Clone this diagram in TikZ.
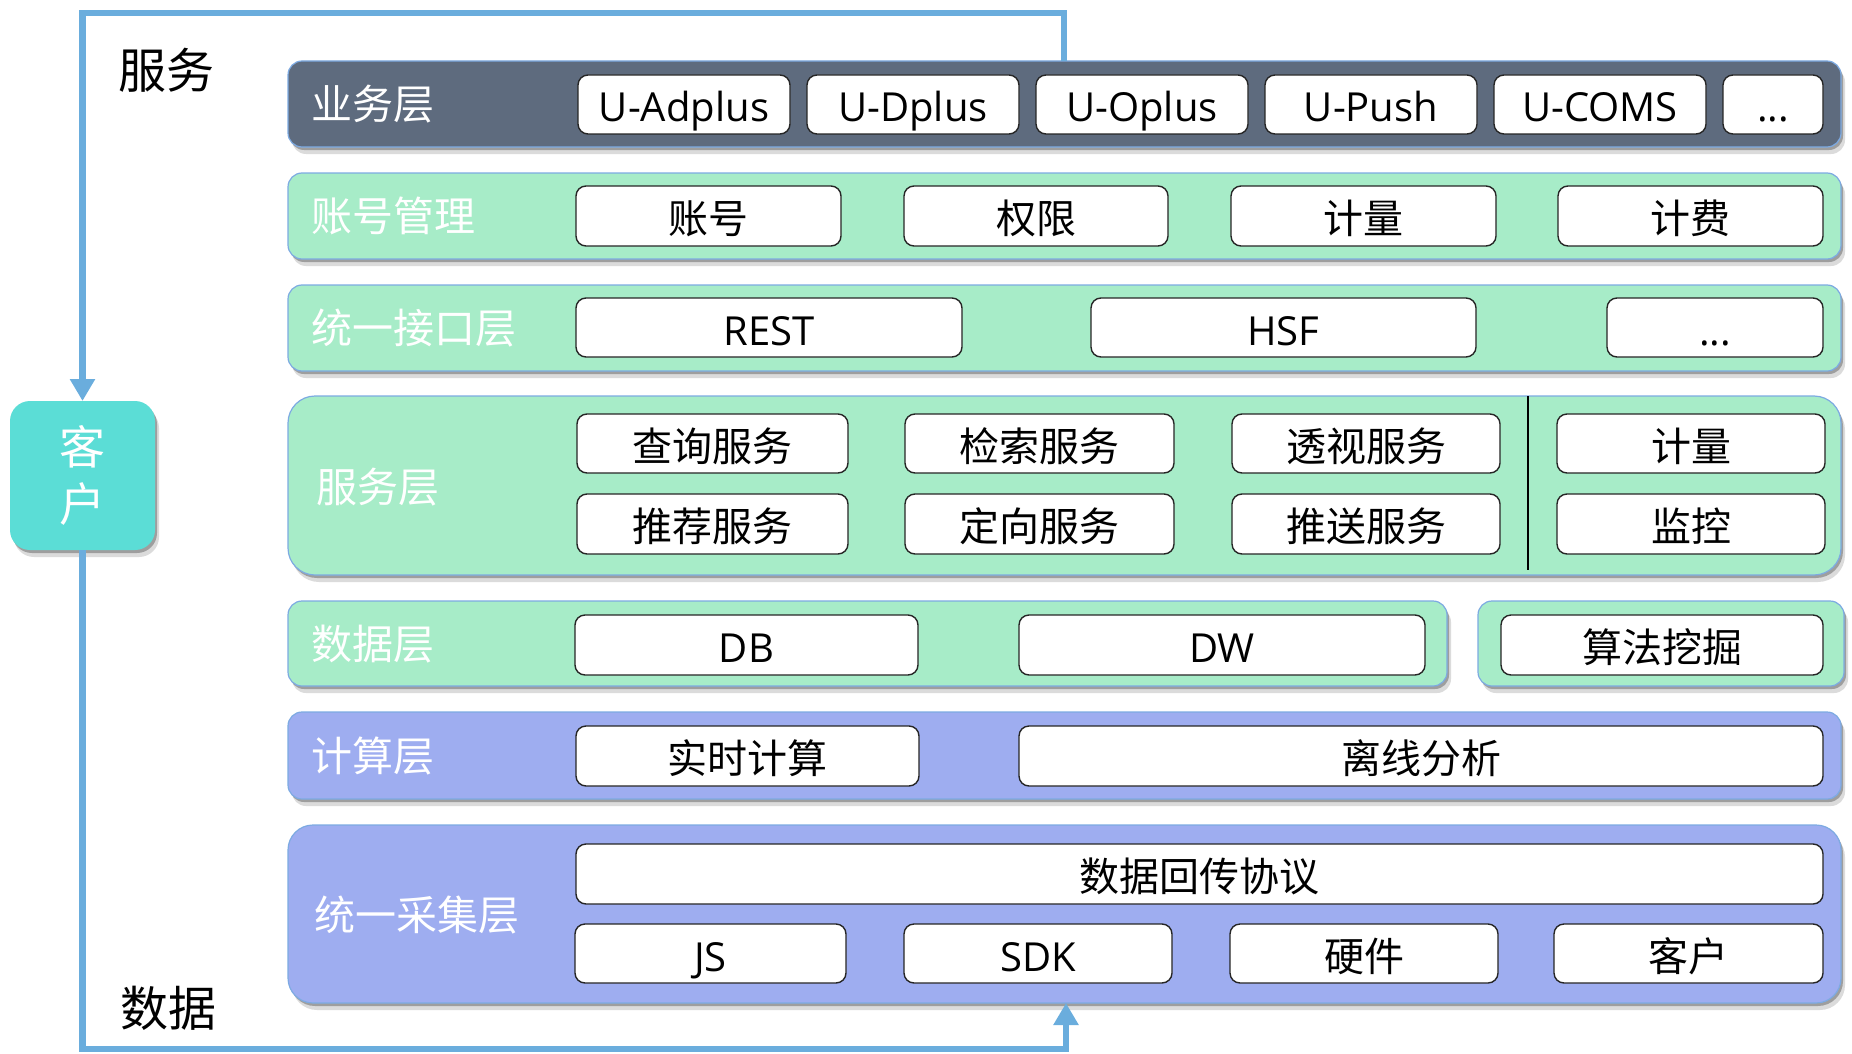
\documentclass[tikz,border=0pt]{standalone}
\usepackage{fontspec}
\setmainfont{Open Sans}
\newfontfamily\cjk{Noto Sans CJK SC}
\usetikzlibrary{shadows,arrows.meta}
\definecolor{slate}{HTML}{5E6B7E}
\definecolor{mint}{HTML}{A7ECC8}
\definecolor{peri}{HTML}{9EADF0}
\definecolor{tealbox}{HTML}{5BDDD6}
\definecolor{loopblue}{HTML}{6AADDD}
\definecolor{edgeblue}{HTML}{7DAAE2}
\newcommand\mybox[6]{\node[bx,minimum width={#3-#2},minimum height={#5-#4}] (#1) at ({(#2+#3)/2},{(#4+#5)/2}) {#6};}
\newcommand\mylayer[7]{\node[layer,fill=#6,rounded corners=#7pt,minimum width={#3-#2},minimum height={#5-#4}] (#1) at ({(#2+#3)/2},{(#4+#5)/2}) {};}
\begin{document}
\begin{tikzpicture}[x=1pt,y=-1pt,
  bx/.style={draw=black!85,line width=1.4pt,fill=white,rounded corners=10pt,inner sep=0pt,outer sep=0pt,font=\fontsize{40}{48}\selectfont,text=black,text height=40pt,text depth=5pt},
  softshadow/.style={drop shadow={shadow xshift=2pt,shadow yshift=-3pt,opacity=0.28,fill=black},
                     drop shadow={shadow xshift=4pt,shadow yshift=-7pt,opacity=0.14,fill=black}},
  layer/.style={draw=edgeblue,line width=1.2pt,inner sep=0pt,outer sep=0pt,softshadow},
  lbl/.style={anchor=west,text=white,font=\fontsize{41}{48}\selectfont\cjk,inner sep=0pt},
  loopline/.style={draw=loopblue,line width=6.5pt},
  looptip/.style={-{Triangle[width=24pt,length=22pt]}}
]
\useasboundingbox (0,0) rectangle (1852,1054);

% layers
\mylayer{L1}{288}{1841}{61}{147}{slate}{14}
\mylayer{L2}{288}{1841}{173}{259}{mint}{14}
\mylayer{L3}{288}{1841}{285}{371}{mint}{14}
\mylayer{L4}{288}{1841}{396}{575}{mint}{27}
\mylayer{L5a}{288}{1447}{601}{686}{mint}{14}
\mylayer{L5b}{1478}{1844}{601}{686}{mint}{14}
\mylayer{L6}{288}{1841}{712}{799}{peri}{14}
\mylayer{L7}{288}{1841}{825}{1003}{peri}{25}

% layer labels
\node[lbl] (t1) at (311,104) {业务层};
\node[lbl] (t2) at (311,216) {账号管理};
\node[lbl] (t3) at (311,328) {统一接口层};
\node[lbl] (t4) at (316,487) {服务层};
\node[lbl] (t5) at (311,644) {数据层};
\node[lbl] (t6) at (311,756) {计算层};
\node[lbl] (t7) at (314,915) {统一采集层};

% layer 1
\mybox{b11}{578}{790}{75}{134}{U-Adplus}
\mybox{b12}{807}{1019}{75}{134}{U-Dplus}
\mybox{b13}{1036}{1248}{75}{134}{U-Oplus}
\mybox{b14}{1265}{1477}{75}{134}{U-Push}
\mybox{b15}{1494}{1706}{75}{134}{U-COMS}
\mybox{b16}{1723}{1823}{75}{134}{...}
% layer 2
\mybox{b21}{576}{841}{186}{246}{\cjk 账号}
\mybox{b22}{904}{1168}{186}{246}{\cjk 权限}
\mybox{b23}{1231}{1496}{186}{246}{\cjk 计量}
\mybox{b24}{1558}{1823}{186}{246}{\cjk 计费}
% layer 3
\mybox{b31}{576}{962}{298}{357}{REST}
\mybox{b32}{1091}{1476}{298}{357}{HSF}
\mybox{b33}{1607}{1823}{298}{357}{...}
% layer 4
\mybox{b41}{577}{848}{414}{473}{\cjk 查询服务}
\mybox{b42}{905}{1174}{414}{473}{\cjk 检索服务}
\mybox{b43}{1232}{1500}{414}{473}{\cjk 透视服务}
\mybox{b44}{1557}{1825}{414}{473}{\cjk 计量}
\mybox{b45}{577}{848}{494}{554}{\cjk 推荐服务}
\mybox{b46}{905}{1174}{494}{554}{\cjk 定向服务}
\mybox{b47}{1232}{1500}{494}{554}{\cjk 推送服务}
\mybox{b48}{1557}{1825}{494}{554}{\cjk 监控}
\coordinate (d1) at (1528,396);
\coordinate (d2) at (1528,570);
\draw[line width=2pt,black] (d1) -- (d2);
% layer 5
\mybox{b51}{575}{918}{615}{675}{DB}
\mybox{b52}{1019}{1425}{615}{675}{DW}
\mybox{b53}{1501}{1823}{615}{675}{\cjk 算法挖掘}
% layer 6
\mybox{b61}{576}{919}{726}{786}{\cjk 实时计算}
\mybox{b62}{1019}{1823}{726}{786}{\cjk 离线分析}
% layer 7
\mybox{b71}{576}{1823}{844}{904}{\cjk 数据回传协议}
\mybox{b72}{575}{846}{924}{983}{JS}
\mybox{b73}{904}{1172}{924}{983}{SDK}
\mybox{b74}{1230}{1498}{924}{983}{\cjk 硬件}
\mybox{b75}{1554}{1823}{924}{983}{\cjk 客户}

% side labels
\node[inner sep=0pt,font=\fontsize{48}{56}\selectfont\cjk] (fw) at (166,70) {服务};
\node[inner sep=0pt,font=\fontsize{48}{56}\selectfont\cjk] (sj) at (168,1008) {数据};

% customer box
\node[fill=tealbox,rounded corners=20pt,minimum width=145,minimum height=149,inner sep=0pt,outer sep=0pt,softshadow,text=white,align=center,font=\fontsize{46}{57}\selectfont\cjk] (kehu) at (82.5,475.5) {客\\户};

% loop
\coordinate (c1) at (1064,13);
\coordinate (c2) at (1066,1049);
\draw[loopline,looptip] (c1 |- L1.north) -- (c1) -| (kehu.north);
\draw[loopline,looptip] (kehu.south) |- (c2) -- (c2 |- L7.south);
\end{tikzpicture}
\end{document}
